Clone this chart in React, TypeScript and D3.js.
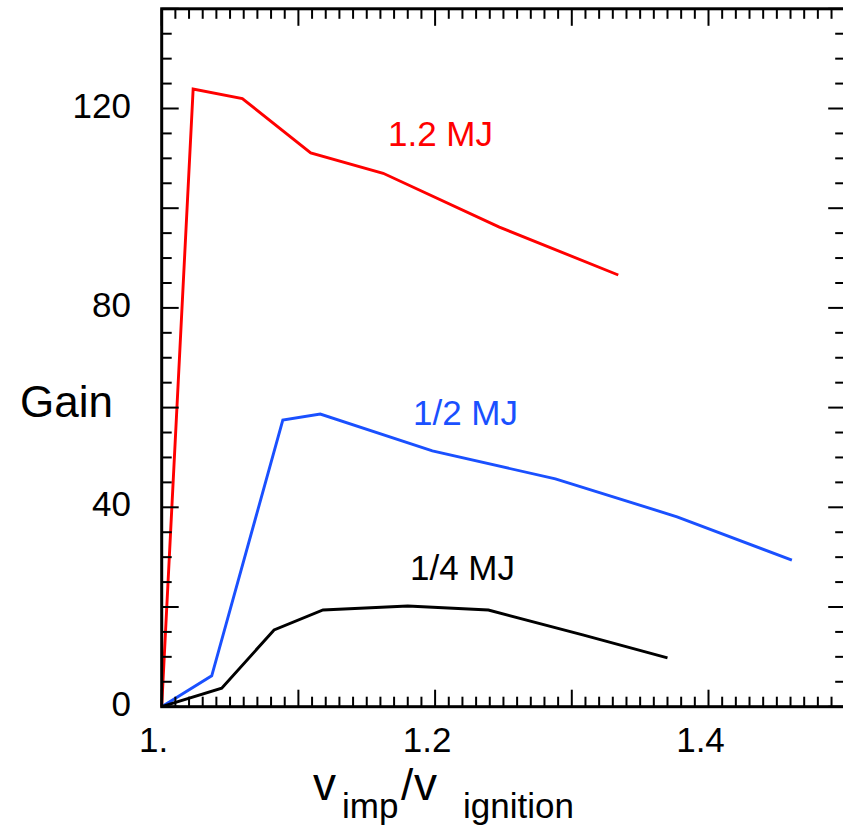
import React from "react";
import * as d3 from "d3";

// Gain versus normalised implosion velocity for three driver energies
const seriesNames = ["1.2 MJ", "1/2 MJ", "1/4 MJ"];
const seriesColors = ["#ff0000", "#1a50ff", "#000000"];

const redX = [1.0, 1.023, 1.059, 1.109, 1.162, 1.247, 1.334];
const redY = [0, 123.9, 122.0, 111.1, 107.0, 96.2, 86.6];

const blueX = [1.0, 1.0366, 1.0886, 1.116, 1.198, 1.288, 1.377, 1.461];
const blueY = [0, 6.2, 57.5, 58.7, 51.3, 45.7, 38.1, 29.4];

const blackX = [1.0, 1.0439, 1.0822, 1.118, 1.18, 1.239, 1.308, 1.37];
const blackY = [0, 3.7, 15.4, 19.4, 20.2, 19.4, 14.4, 9.8];

// label anchor points (data coordinates) for each curve name
const labelX = [1.1655, 1.1838, 1.1816];
const labelY = [112.5, 56.5, 25.4];

const xTickValues = [1.0, 1.2, 1.4];
const xTickText = ["1.", "1.2", "1.4"];
const yTickValues = [0, 40, 80, 120];
const yTickText = ["0", "40", "80", "120"];

const W = 843;
const H = 832;

export default function App() {
  const x = d3.scaleLinear().domain([1.0, 1.5]).range([161.7, 845.2]);
  const y = d3.scaleLinear().domain([0, 140]).range([706.7, 8.8]);

  const series = [
    { xs: redX, ys: redY },
    { xs: blueX, ys: blueY },
    { xs: blackX, ys: blackY },
  ];

  const line = d3
    .line<[number, number]>()
    .x((d) => x(d[0]))
    .y((d) => y(d[1]));

  const xMinor = d3.range(0, 51).map((i) => 1.0 + i * 0.01);
  const yMinor = d3.range(0, 29).map((i) => i * 5);

  const [x0, x1] = x.range();
  const [y0, y1] = y.range();
  const font = "Arial, 'Liberation Sans', Helvetica, sans-serif";

  return (
    <svg
      width={W}
      height={H}
      style={{ position: "fixed", left: 0, top: 0, background: "#fff" }}
      fontFamily={font}
    >
      <rect x={0} y={0} width={W} height={H} fill="#fff" />

      {/* curves */}
      {series.map((s, i) => (
        <path
          key={i}
          d={line(s.xs.map((v, j) => [v, s.ys[j]] as [number, number])) || ""}
          fill="none"
          stroke={seriesColors[i]}
          strokeWidth={2.9}
          strokeLinejoin="miter"
        />
      ))}

      {/* frame */}
      <rect
        x={x0}
        y={y1}
        width={x1 - x0}
        height={y0 - y1}
        fill="none"
        stroke="#000"
        strokeWidth={3}
      />

      {/* x ticks, bottom and top */}
      {xMinor.map((v, i) => {
        const major = i % 10 === 0;
        const len = major ? 17 : 10;
        const px = x(v);
        return (
          <g key={"xt" + i}>
            <line x1={px} x2={px} y1={y0} y2={y0 - len} stroke="#000" strokeWidth={2} />
            <line x1={px} x2={px} y1={y1} y2={y1 + len} stroke="#000" strokeWidth={2} />
          </g>
        );
      })}

      {/* y ticks, left and right */}
      {yMinor.map((v, i) => {
        const major = i % 4 === 0;
        const len = major ? 17 : 10;
        const py = y(v);
        return (
          <g key={"yt" + i}>
            <line x1={x0} x2={x0 + len} y1={py} y2={py} stroke="#000" strokeWidth={2} />
            <line x1={x1} x2={x1 - len} y1={py} y2={py} stroke="#000" strokeWidth={2} />
          </g>
        );
      })}

      {/* tick labels */}
      {xTickValues.map((v, i) => (
        <text key={"xl" + i} x={x(v) - 8} y={752} textAnchor="middle" fontSize={35} fill="#000">
          {xTickText[i]}
        </text>
      ))}
      {yTickValues.map((v, i) => (
        <text key={"yl" + i} x={131} y={y(v) + 9} textAnchor="end" fontSize={35} fill="#000">
          {yTickText[i]}
        </text>
      ))}

      {/* axis titles */}
      <text x={20} y={417} fontSize={44} fill="#000">
        Gain
      </text>
      <text y={800} fontSize={46} fill="#000">
        <tspan x={313}>v</tspan>
        <tspan x={342} y={818} fontSize={35}>imp</tspan>
        <tspan x={401} y={800} fontSize={44}>/</tspan>
        <tspan x={414} y={800}>v</tspan>
        <tspan x={463} y={818} fontSize={35}>ignition</tspan>
      </text>

      {/* curve names */}
      {seriesNames.map((n, i) => (
        <text
          key={"n" + i}
          x={x(labelX[i])}
          y={y(labelY[i])}
          fontSize={35}
          fill={seriesColors[i]}
        >
          {n}
        </text>
      ))}
    </svg>
  );
}
